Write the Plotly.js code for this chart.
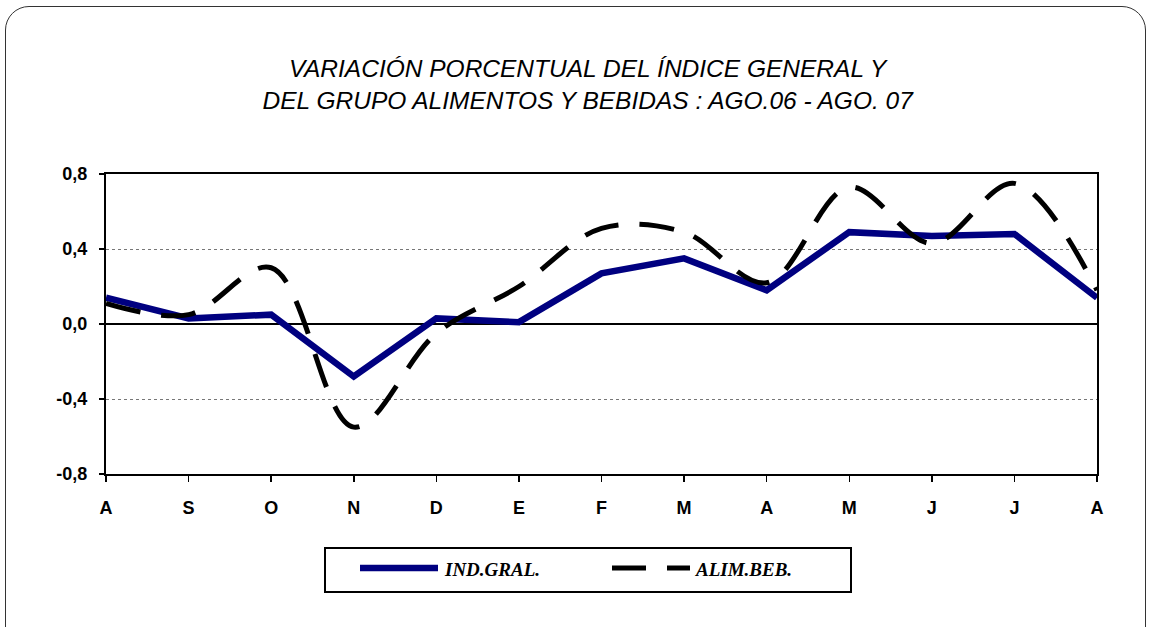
<!DOCTYPE html>
<html>
<head>
<meta charset="utf-8">
<script src="https://cdn.plot.ly/plotly-3.0.1.min.js"></script>
<style>
  html, body { margin: 0; padding: 0; background: #ffffff; overflow: hidden; }
  #wrap { position: relative; width: 1150px; height: 627px; }
  #chart { position: absolute; left: 0; top: 0; width: 1150px; height: 627px; }
  #frame { position: absolute; left: 5px; top: 6px; width: 1141px; height: 700px;
           border: 1.5px solid #333; border-radius: 24px; pointer-events: none; box-sizing: border-box; }
</style>
</head>
<body>
<div id="wrap">
  <div id="chart"></div>
  <div id="frame"></div>
</div>
<script>
// ---- data ----
const months = ["A", "S", "O", "N", "D", "E", "F", "M", "A", "M", "J", "J", "A"];
const indGral = [0.14, 0.03, 0.05, -0.28, 0.03, 0.01, 0.27, 0.35, 0.18, 0.49, 0.47, 0.48, 0.14];
const alimBeb = [0.11, 0.05, 0.30, -0.55, -0.05, 0.20, 0.51, 0.49, 0.22, 0.73, 0.43, 0.75, 0.18];
const seriesNames = ["IND.GRAL.", "ALIM.BEB."];
const yTickVals = [-0.8, -0.4, 0.0, 0.4, 0.8];
const yTickText = ["-0,8", "-0,4", "0,0", "0,4", "0,8"];

const xIdx = months.map((_, i) => i);

const traces = [
  {
    x: xIdx, y: indGral, name: seriesNames[0], type: "scatter", mode: "lines",
    line: { color: "#000080", width: 6.5 }, showlegend: false, cliponaxis: false
  },
  {
    x: xIdx, y: alimBeb, name: seriesNames[1], type: "scatter", mode: "lines",
    line: { color: "#000000", width: 5, shape: "spline", smoothing: 1, dash: "35px,21px" },
    showlegend: false, cliponaxis: false
  }
];

// plot area in pixels: left 106, right 1097, top 174, bottom 474
const L = 106, R = 1097, T = 174, B = 474;
const px = v => (v - L) / (R - L);
const py = v => (B - v) / (B - T);

const legendFont = { family: "Liberation Serif, Times New Roman, serif", size: 19, color: "#000" };
const tickFont = { family: "Liberation Sans, Arial, sans-serif", size: 18, color: "#000" };

const layout = {
  width: 1150, height: 627,
  margin: { l: L, r: 1150 - R, t: T, b: 627 - B, pad: 0 },
  paper_bgcolor: "rgba(0,0,0,0)", plot_bgcolor: "#ffffff",
  showlegend: false,
  title: {
    text: "<i>VARIACIÓN PORCENTUAL DEL ÍNDICE GENERAL Y<br>DEL GRUPO ALIMENTOS Y BEBIDAS : AGO.06 - AGO. 07</i>",
    font: { family: "Liberation Sans, Arial, sans-serif", size: 24.5, color: "#000" },
    x: 0.511, xanchor: "center", y: 0.877, yanchor: "top", yref: "container"
  },
  xaxis: {
    range: [0, 12], tickmode: "array", tickvals: xIdx, ticktext: months.map(m => "<b>" + m + "</b>"),
    ticks: "outside", ticklen: 6, tickwidth: 1.5, tickcolor: "#000", ticklabelstandoff: 10,
    showline: true, linecolor: "#000", linewidth: 2, mirror: true,
    showgrid: false, zeroline: false,
    tickfont: tickFont,
    fixedrange: true
  },
  yaxis: {
    range: [-0.8, 0.8], tickmode: "array", tickvals: yTickVals, ticktext: yTickText.map(t => "<b>" + t + "</b>"),
    ticks: "outside", ticklen: 5, tickwidth: 1.5, tickcolor: "#000", ticklabelstandoff: 8,
    showline: true, linecolor: "#000", linewidth: 2, mirror: true,
    showgrid: true, gridcolor: "#777", griddash: "dot", gridwidth: 1,
    zeroline: true, zerolinecolor: "#000", zerolinewidth: 2,
    tickfont: tickFont,
    fixedrange: true
  },
  shapes: [
    { type: "rect", xref: "paper", yref: "paper", x0: px(325), x1: px(851), y0: py(548), y1: py(592),
      line: { color: "#000", width: 2 }, fillcolor: "#fff" },
    { type: "line", xref: "paper", yref: "paper", x0: px(360), x1: px(438), y0: py(568), y1: py(568),
      line: { color: "#000080", width: 6.5 } },
    { type: "line", xref: "paper", yref: "paper", x0: px(612), x1: px(690), y0: py(568), y1: py(568),
      line: { color: "#000", width: 5, dash: "34px,21px" } }
  ],
  annotations: [
    { xref: "paper", yref: "paper", x: px(442), y: py(569), xanchor: "left", yanchor: "middle",
      text: "<b><i>" + seriesNames[0] + "</i></b>", showarrow: false, font: legendFont },
    { xref: "paper", yref: "paper", x: px(693), y: py(569), xanchor: "left", yanchor: "middle",
      text: "<b><i>" + seriesNames[1] + "</i></b>", showarrow: false, font: legendFont }
  ]
};

Plotly.newPlot("chart", traces, layout, { displayModeBar: false, staticPlot: true });
</script>
</body>
</html>
